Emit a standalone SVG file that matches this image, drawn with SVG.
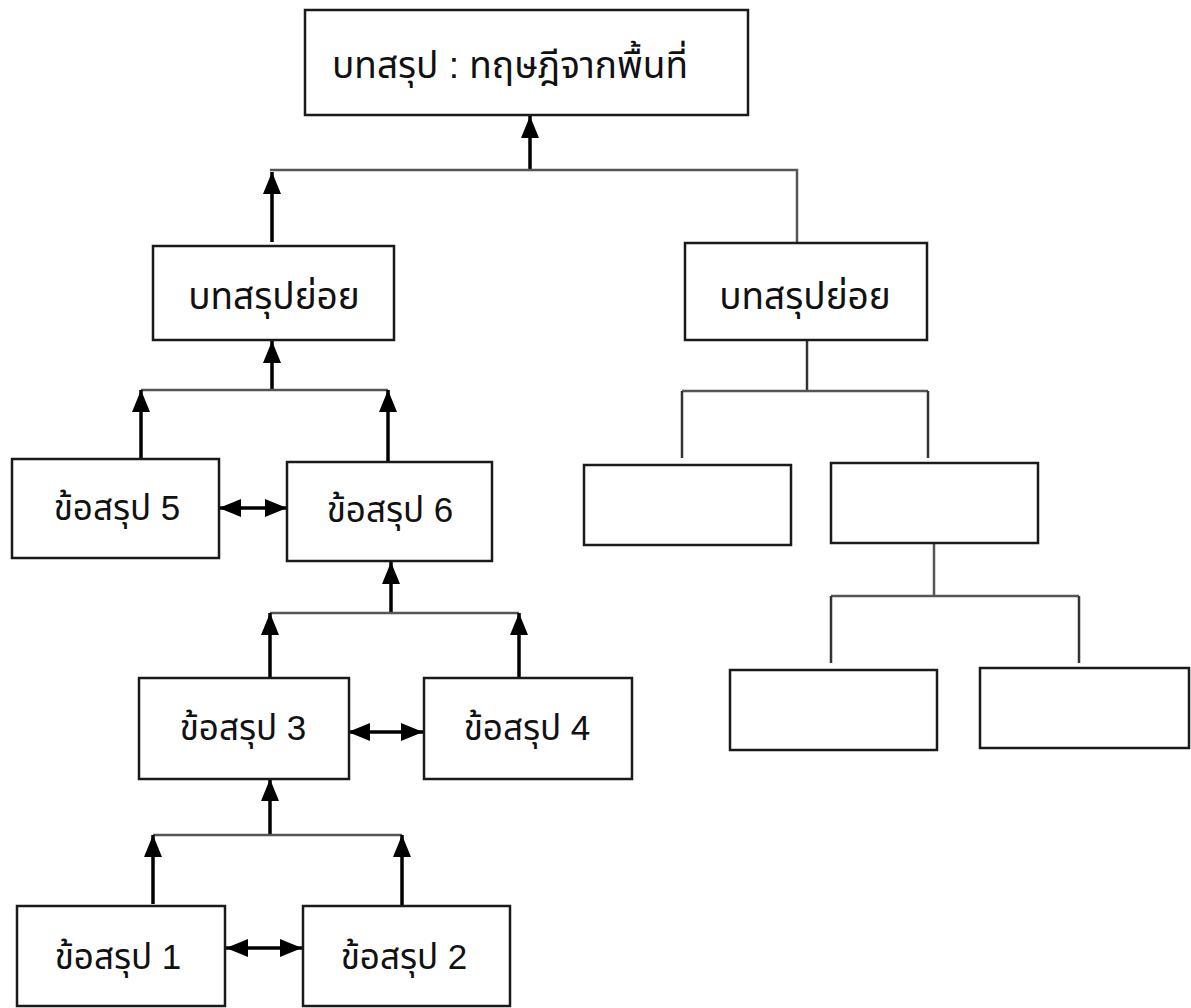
<svg xmlns="http://www.w3.org/2000/svg" width="1191" height="1008" viewBox="0 0 1191 1008">
<style>
.box{fill:#fff;stroke:#1a1a1a;stroke-width:2.5}
.t{font-family:"Liberation Sans","Noto Sans Thai","Noto Sans",sans-serif;font-size:35px;fill:#111;text-anchor:middle}
.tb{font-size:37px}
.arr{fill:none;stroke:#000;stroke-width:3.5;marker-end:url(#ah)}
.dbl{fill:none;stroke:#000;stroke-width:3.5;marker-start:url(#ah);marker-end:url(#ah)}
.ln{fill:none;stroke:#333;stroke-width:2.5}
.gl{fill:none;stroke:#555;stroke-width:2.5}
</style>
<defs>
<marker id="ah" markerUnits="userSpaceOnUse" markerWidth="24" markerHeight="18" refX="22" refY="9" orient="auto-start-reverse" viewBox="0 0 24 18">
<path d="M0,0 L22,9 L0,18 z" fill="#000"/>
</marker>
</defs>
<g id="connectors">
<path class="arr" d="M530,170 V116"/>
<path class="gl" d="M270,170 H797 V242"/>
<path class="arr" d="M272,242 V172"/>
<path class="arr" d="M272,390 V341"/>
<path class="gl" d="M141,390 H388"/>
<path class="arr" d="M141,459 V390"/>
<path class="arr" d="M388,462 V390"/>
<path class="dbl" d="M219,508 H287"/>
<path class="arr" d="M391,613 V562"/>
<path class="gl" d="M270,613 H519"/>
<path class="arr" d="M270,678 V613"/>
<path class="arr" d="M519,678 V613"/>
<path class="dbl" d="M348,732 H423"/>
<path class="arr" d="M270,835 V779"/>
<path class="gl" d="M153,835 H402"/>
<path class="arr" d="M153,904 V835"/>
<path class="arr" d="M402,905 V835"/>
<path class="dbl" d="M226,948 H302"/>
<path class="ln" d="M807,340 V391"/>
<path class="gl" d="M682,391 H928"/>
<path class="ln" d="M682,391 V458 M928,391 V458"/>
<path class="gl" d="M934,543 V596"/>
<path class="gl" d="M831,596 H1079"/>
<path class="ln" d="M831,596 V663 M1079,596 V663"/>
</g>
<g id="top"><rect class="box" x="305" y="10" width="443" height="105"/><text class="t tb" x="510" y="78">บทสรุป : ทฤษฎีจากพื้นที่</text></g>
<g id="sub-left"><rect class="box" x="153" y="246" width="241" height="94"/><text class="t tb" x="274" y="309">บทสรุปย่อย</text></g>
<g id="sub-right"><rect class="box" x="685" y="243" width="242" height="97"/><text class="t tb" x="805" y="309">บทสรุปย่อย</text></g>
<g id="c5"><rect class="box" x="12" y="459" width="207" height="99"/><text class="t" x="117" y="520">ข้อสรุป 5</text></g>
<g id="c6"><rect class="box" x="287" y="462" width="205" height="99"/><text class="t" x="390" y="522">ข้อสรุป 6</text></g>
<g id="c3"><rect class="box" x="139" y="678" width="210" height="101"/><text class="t" x="243" y="740">ข้อสรุป 3</text></g>
<g id="c4"><rect class="box" x="424" y="678" width="208" height="101"/><text class="t" x="527" y="740">ข้อสรุป 4</text></g>
<g id="c1"><rect class="box" x="17" y="906" width="208" height="100"/><text class="t" x="118" y="969">ข้อสรุป 1</text></g>
<g id="c2"><rect class="box" x="303" y="906" width="207" height="100"/><text class="t" x="404" y="969">ข้อสรุป 2</text></g>
<g id="ea"><rect class="box" x="584" y="465" width="207" height="80"/></g>
<g id="eb"><rect class="box" x="831" y="463" width="207" height="80"/></g>
<g id="ec"><rect class="box" x="730" y="670" width="207" height="80"/></g>
<g id="ed"><rect class="box" x="980" y="668" width="209" height="80"/></g>
</svg>
